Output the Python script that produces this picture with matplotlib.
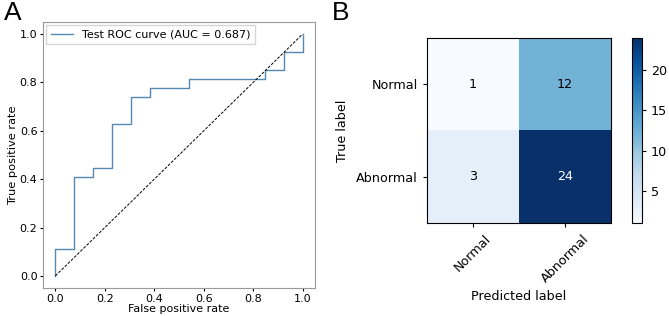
import numpy as np
import matplotlib
matplotlib.use("Agg")
import matplotlib.pyplot as plt

# ROC curve of the test set (13 normal, 27 abnormal)
fpr = [0, 0, 1/13, 1/13, 2/13, 2/13, 3/13, 3/13, 4/13, 4/13, 5/13, 5/13,
       7/13, 7/13, 11/13, 11/13, 12/13, 12/13, 1, 1]
tpr = [0, 3/27, 3/27, 11/27, 11/27, 12/27, 12/27, 17/27, 17/27, 20/27, 20/27,
       21/27, 21/27, 22/27, 22/27, 23/27, 23/27, 25/27, 25/27, 1]
auc_val = 0.687

# confusion matrix
classes = ["Normal", "Abnormal"]
cm = np.array([[1, 12],
               [3, 24]])

fig = plt.figure(figsize=(6.69, 3.16), dpi=100)

# --- A: ROC ---
ax = fig.add_axes([43/669, 28/316, 272/669, 266/316])
ax.plot(fpr, tpr, color="#5689b2", lw=1.0,
        label="Test ROC curve (AUC = %.3f)" % auc_val)
ax.plot([0, 1], [0, 1], color="black", ls="--", lw=0.7, dashes=(3, 1.5))
ax.set_xlabel("False positive rate", fontsize=8, labelpad=0)
ax.set_ylabel("True positive rate", fontsize=8.2, labelpad=1.5)
ax.tick_params(labelsize=8, length=2.5, pad=1.5)
ax.set_xticks([0, 0.2, 0.4, 0.6, 0.8, 1.0])
ax.set_yticks([0, 0.2, 0.4, 0.6, 0.8, 1.0])
ax.legend(loc="upper left", fontsize=8, fancybox=False, borderaxespad=0.3,
          handlelength=2.0)
for s in ax.spines.values():
    s.set_color("#999999")

# --- B: confusion matrix ---
axb = fig.add_axes([427/669, 93/316, 184/669, 185/316])
im = axb.imshow(cm, cmap="Blues", aspect="auto", vmin=cm.min(), vmax=cm.max())
thresh = (cm.max() + cm.min()) / 2.0
for i in range(cm.shape[0]):
    for j in range(cm.shape[1]):
        axb.text(j, i, str(cm[i, j]), ha="center", va="center", fontsize=9.2,
                 color="white" if cm[i, j] > thresh else "black")
axb.set_xticks([0, 1])
axb.set_yticks([0, 1])
axb.set_xticklabels(classes, rotation=45, ha="center", fontsize=9.2)
axb.set_yticklabels(classes, fontsize=9.2)
axb.set_xlabel("Predicted label", fontsize=9.2, labelpad=4)
axb.set_ylabel("True label", fontsize=9.2, labelpad=5)
axb.tick_params(length=3)

cax = fig.add_axes([632/669, 93/316, 10/669, 185/316])
cb = fig.colorbar(im, cax=cax)
cb.set_ticks([5, 10, 15, 20])
cb.ax.tick_params(labelsize=9.2, length=3)

fig.text(4/669, 1 - 1/316, "A", fontsize=19, family="Liberation Sans", va="top")
fig.text(332/669, 1 - 1/316, "B", fontsize=19, family="Liberation Sans", va="top")

fig.savefig("out.png", dpi=100)
